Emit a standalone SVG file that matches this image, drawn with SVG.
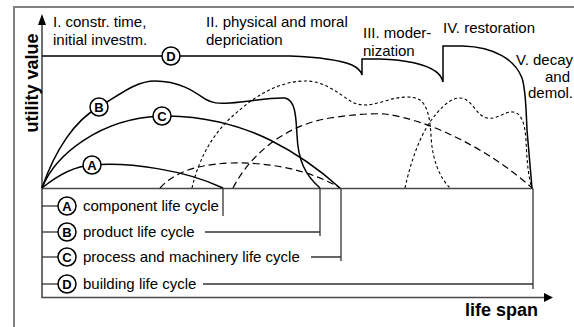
<svg xmlns="http://www.w3.org/2000/svg" width="574" height="327" viewBox="0 0 574 327">
<style>
.frame{stroke:#808080;stroke-width:2;fill:none}
.ax{stroke:#4a4a4a;stroke-width:1.6;fill:none}
.lg{stroke:#333;stroke-width:1.3;fill:none}
.cv{stroke:#000;stroke-width:1.5;fill:none}
.fd{stroke:#000;stroke-width:1.1;stroke-dasharray:3 2.5;fill:none}
.ld{stroke:#000;stroke-width:1.2;stroke-dasharray:7 4;fill:none}
.t{font-family:"Liberation Sans",Arial,sans-serif;font-size:15px;fill:#000}
.b{font-family:"Liberation Sans",Arial,sans-serif;font-weight:bold;font-size:18px;fill:#000}
.mk circle{fill:#fff;stroke:#000;stroke-width:1.5}
.mk text{font-family:"Liberation Sans",Arial,sans-serif;font-weight:bold;font-size:13px;text-anchor:middle;fill:#000}
</style>
<rect width="574" height="327" fill="#fff"/>
<path class="frame" d="M14,327 V7 H574"/>
<g id="axes">
<path class="ax" d="M42,22 V297.5 H546"/>
<path d="M42,14 L46,25 L38,25 Z" fill="#000"/>
<path d="M553,297.5 L544,293 L544,302 Z" fill="#000"/>
<path class="ax" d="M42,188.5 H533"/>
<text class="b" transform="translate(38,83) rotate(-90)" text-anchor="middle">utility value</text>
<text class="b" x="465" y="316">life span</text>
</g>
<g id="connectors">
<path class="ld" d="M160,188 C172,175 190,165 230,163 C270,162 310,170 340,188"/>
<path class="ld" d="M233,188 C250,155 285,125 330,118 C350,115 370,113 385,114 C430,120 490,150 532,188"/>
<path class="fd" d="M192,188 C197,165 210,135 235,114 C255,96 278,82 303,81 C325,80 340,95 352,102 C362,107 372,105 385,101 C398,97 412,95 420,100 C428,106 430,120 431,135 C432,160 440,178 450,188"/>
<path class="fd" d="M405,188 C410,165 418,140 430,122 C440,108 450,98 460,98 C472,98 476,116 487,118 C497,120 505,111 513,112 C522,113 525,125 526,140 C527,165 529,180 532,188"/>
<path class="cv" d="M42,188 C58,175 75,166 92,165 C130,162 185,170 223,188"/>
<path class="cv" d="M42,188 C55,150 75,120 99,107 C118,96 135,81 155,81 C180,81 195,92 205,99 C212,103 218,104 230,103 C250,102 270,97 285,98 C295,100 296,115 297,135 C298,160 305,175 320,188"/>
<path class="cv" d="M42,188 C55,155 100,118 162,116 C200,115 240,125 270,140 C300,155 320,170 340,188"/>
<path class="cv" d="M42,56 H290 C315,57 340,60 352,65 C358,68 361,71 362,75 V59 H380 C405,60 425,64 435,71 C440,74 442,78 443,82 V46 H463 C495,47 515,60 522,78 C526,90 526,110 527,130 L532,188"/>
</g>
<g id="legend">
<path class="lg" d="M42,206 H58"/>
<path class="lg" d="M42,232 H58"/>
<path class="lg" d="M42,257 H58"/>
<path class="lg" d="M42,284 H58"/>
<path class="lg" d="M223,188.5 V216"/>
<path class="lg" d="M205,232 H320 M320,188.5 V236"/>
<path class="lg" d="M311,257 H341 M341,188.5 V261"/>
<path class="lg" d="M203,284 H533 M533,188.5 V289"/>
<text class="t" x="83" y="211">component life cycle</text>
<text class="t" x="83" y="237">product life cycle</text>
<text class="t" x="83" y="262">process and machinery life cycle</text>
<text class="t" x="83" y="289">building life cycle</text>
</g>
<g id="node-A" class="mk"><circle cx="92" cy="165" r="9"/><text x="92" y="169.7">A</text></g>
<g id="node-B" class="mk"><circle cx="99" cy="107" r="9"/><text x="99" y="111.7">B</text></g>
<g id="node-C" class="mk"><circle cx="162" cy="116" r="9"/><text x="162" y="120.7">C</text></g>
<g id="node-D" class="mk"><circle cx="171" cy="56" r="9"/><text x="171" y="60.7">D</text></g>
<g id="legend-A" class="mk"><circle cx="67" cy="206" r="9"/><text x="67" y="210.7">A</text></g>
<g id="legend-B" class="mk"><circle cx="67" cy="232" r="9"/><text x="67" y="236.7">B</text></g>
<g id="legend-C" class="mk"><circle cx="67" cy="257" r="9"/><text x="67" y="261.7">C</text></g>
<g id="legend-D" class="mk"><circle cx="67" cy="284" r="9"/><text x="67" y="288.7">D</text></g>
<g id="phases">
<text class="t" x="53" y="27">I. constr. time,</text>
<text class="t" x="53" y="45">initial investm.</text>
<text class="t" x="206" y="27">II. physical and moral</text>
<text class="t" x="206" y="45">depriciation</text>
<text class="t" x="363" y="38">III. moder-</text>
<text class="t" x="363" y="56">nization</text>
<text class="t" x="443" y="33">IV. restoration</text>
<text class="t" x="573" y="65" text-anchor="end">V. decay</text>
<text class="t" x="570" y="82" text-anchor="end">and</text>
<text class="t" x="573" y="98" text-anchor="end">demol.</text>
</g>
</svg>
